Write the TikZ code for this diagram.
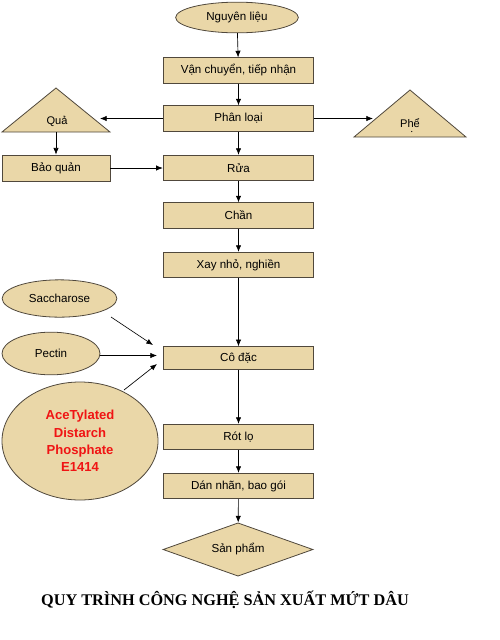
\documentclass[tikz,border=0pt]{standalone}
\usepackage{fontspec}
\setmainfont{Liberation Sans}
\newfontfamily\titlefont{Liberation Serif}
\usetikzlibrary{shapes.geometric,arrows.meta}
\definecolor{parch}{RGB}{234,215,168}
\definecolor{edge}{RGB}{80,72,60}
\definecolor{redtxt}{RGB}{240,20,20}
\begin{document}
\begin{tikzpicture}[x=0.75pt,y=-0.75pt,
  stepbox/.style={draw=edge,fill=parch,line width=0.6pt,minimum width=113pt,minimum height=19pt,inner sep=0pt,font=\fontsize{8.7pt}{10pt}\selectfont},
  oval/.style={draw=edge,fill=parch,line width=0.6pt,ellipse,inner sep=0pt,font=\fontsize{8.7pt}{10pt}\selectfont},
  tri/.style={draw=edge,fill=parch,line width=0.6pt},
  arr/.style={-{Latex[length=5pt,width=4pt]},line width=0.5pt,black}]
\useasboundingbox (0,0) rectangle (500,640);
% top
\node[oval,minimum width=92pt,minimum height=23pt] (nl) at (237,17.5) {Nguyên liệu};
\node[stepbox] (van) at (238.5,70.5) {Vận chuyển, tiếp nhận};
\node[stepbox] (phan) at (238.5,118.5) {Phân loại};
\node[stepbox] (rua) at (238.5,168) {Rửa};
\node[stepbox] (chan) at (238.5,215.5) {Chần};
\node[stepbox] (xay) at (238.5,265) {Xay nhỏ, nghiền};
\node[stepbox,minimum height=17pt] (co) at (238.5,358) {Cô đặc};
\node[stepbox] (rot) at (238.5,437) {Rót lọ};
\node[stepbox] (dan) at (238.5,486) {Dán nhãn, bao gói};
\node[draw=edge,fill=parch,line width=0.6pt,diamond,aspect=2.8,inner sep=0pt,minimum width=112.5pt,minimum height=40pt,font=\fontsize{8.7pt}{10pt}\selectfont] (sp) at (238,549.5) {Sản phẩm};
\node[stepbox,minimum width=81pt,minimum height=19.5pt] (bao) at (56,168) {Bảo quản};
% triangles
\draw[tri] (2,132) -- (56,88) -- (110,132) -- cycle;
\node[font=\fontsize{8.3pt}{10pt}\selectfont] (qua) at (57,121) {Quả};
\coordinate (quabase) at (56,132);
\coordinate (quaside) at (100,118.5);
\draw[tri] (354,137) -- (410,90) -- (466,137) -- cycle;
\node[font=\fontsize{8.3pt}{10pt}\selectfont] (phe) at (410,123) {Phể};
\fill[black] (411.7,131.5) circle (0.6);
\coordinate (pheside) at (373,118.5);
% ellipses
\node[oval,minimum width=86pt,minimum height=28pt] (sac) at (59.5,298.5) {Saccharose};
\node[oval,minimum width=73.5pt,minimum height=32pt] (pec) at (51,353.5) {Pectin};
\node[oval,minimum width=117pt,minimum height=88.5pt,text=redtxt,align=center,font=\bfseries\fontsize{9.8pt}{13pt}\selectfont] (ace) at (80,441) {AceTylated\\Distarch\\Phosphate\\E1414};
\coordinate (c1) at (153,345);
\coordinate (c2) at (157,355.5);
\coordinate (c3) at (157,364);
\coordinate (pecout) at (100,355.5);
% arrows
\draw[arr] (nl) -- (van);
\draw[arr] (van) -- (phan);
\draw[arr] (phan) -- (rua);
\draw[arr] (rua) -- (chan);
\draw[arr] (chan) -- (xay);
\draw[arr] (xay) -- (co);
\draw[arr] (co) -- (rot);
\draw[arr] (rot) -- (dan);
\draw[arr] (dan) -- (sp);
\draw[arr] (phan.west) -- (quaside);
\draw[arr] (phan.east) -- (pheside);
\draw[arr] (quabase) -- (bao.north);
\draw[arr] (bao) -- (rua);
\draw[arr] (111,317) -- (c1);
\draw[arr] (pecout) -- (c2);
\draw[arr] (124,390) -- (c3);
% title
\node[font=\titlefont\bfseries\fontsize{12.2pt}{14pt}\selectfont] (title) at (225,600) {QUY TRÌNH CÔNG NGHỆ SẢN XUẤT MỨT DÂU};
\end{tikzpicture}
\end{document}
